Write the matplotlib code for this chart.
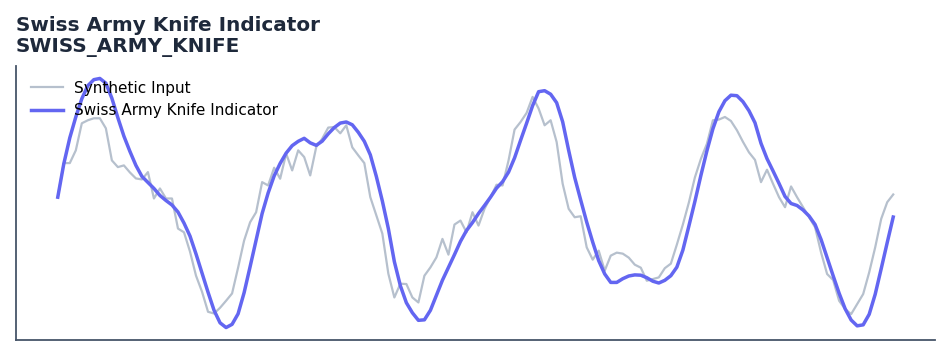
import matplotlib
matplotlib.use('Agg')
import matplotlib.pyplot as plt
import numpy as np

# values (arbitrary units, no axis shown)
synthetic_input = [
    143.3, 177.3, 177.3, 190, 217, 220, 222, 222, 212, 180,
    173.3, 175, 168, 162, 161, 168.3, 142, 152, 142, 142,
    112, 108.3, 89, 65, 49, 29, 27.3, 33, 40, 47.3,
    73, 100, 118.3, 128.3, 158.3, 155, 172.7, 161.7, 186.7, 170,
    190, 183.3, 165, 193.3, 201.7, 212.7, 213.3, 207, 215, 193,
    185, 177.3, 143.3, 125, 107, 67, 43.3, 57, 56.7, 43.3,
    38.3, 65, 73.3, 83.3, 101.7, 86, 116, 120, 108.3, 128.3,
    115, 131.7, 143.3, 155.7, 155, 180, 210.7, 218.3, 227.3, 243.3,
    231.7, 215, 220, 198.3, 156.7, 131.7, 123.3, 124.3, 93.3, 81,
    90, 70, 85, 88, 87, 83, 76, 73, 60, 61.7,
    63.3, 72.5, 77, 96, 116, 138, 163, 181.5, 196.5, 220,
    220.7, 223.3, 219.3, 210, 198.5, 188, 180.5, 158.3, 170.7, 156.7,
    143.3, 133.3, 154, 143.3, 133.3, 123.3, 113.3, 88, 66.7, 60.7,
    40, 31.7, 26.7, 36.7, 46.7, 68.3, 93.3, 121.7, 138.3, 146,
]

swiss_army_knife = [
    143.3, 176.5, 202.5, 223.3, 241.5, 254.5, 260.5, 261.7, 257, 242,
    222.5, 204.2, 189, 175, 164, 158, 152, 145, 140, 135.5,
    128.5, 117.5, 104.5, 86.7, 67.5, 48.5, 30.5, 18, 13.3, 16.5,
    27, 48, 74, 100.5, 127, 147.5, 164.5, 177, 187.3, 194.7,
    199, 202, 197.5, 195, 199.2, 206.5, 212.7, 217.2, 218.3, 215.5,
    208, 199, 185.5, 164, 139.5, 112, 79, 55, 38, 28,
    20.5, 21, 30.5, 45.5, 60.5, 73.2, 86, 99.2, 110, 118,
    127, 135, 143.3, 152.3, 158.7, 168.3, 182.5, 200, 217, 234.5,
    248.5, 249.5, 246, 237.5, 218.5, 190, 163, 140.5, 118.5, 98.5,
    80, 66.7, 58.3, 58.3, 62, 64.7, 65.8, 65.5, 63, 59.5,
    57.7, 60.4, 65, 73.5, 90.5, 114.5, 139, 165, 189.5, 211.5,
    228.5, 239.5, 245, 244.5, 238.5, 229.5, 217.5, 197, 181.7, 169.5,
    157, 144, 137, 135, 130.5, 124.5, 116, 101, 83, 65,
    47.5, 32, 20.8, 15, 16, 26.5, 46.5, 72, 98, 123.5,
]

x = np.arange(len(synthetic_input))

fig = plt.figure(figsize=(9.51, 3.56), dpi=100)
ax = fig.add_axes([16 / 951, 1 - 340 / 356, (935 - 16) / 951, (340 - 66) / 356])

ax.plot(x, synthetic_input, color='#b6c0cd', linewidth=1.6, label='Synthetic Input')
ax.plot(x, swiss_army_knife, color='#6366f1', linewidth=2.5, label='Swiss Army Knife Indicator')

for side in ('top', 'right'):
    ax.spines[side].set_visible(False)
for side in ('left', 'bottom'):
    ax.spines[side].set_color('#475569')
    ax.spines[side].set_linewidth(1.3)
ax.set_xticks([])
ax.set_yticks([])

ax.legend(loc='upper left', frameon=False, fontsize=11, handlelength=2.15,
          handletextpad=0.7, borderaxespad=0.55, labelspacing=0.5)

fig.text(16 / 951, 1 - 16 / 356, 'Swiss Army Knife Indicator\nSWISS_ARMY_KNIFE',
         ha='left', va='top', fontsize=14.4, fontweight='bold', color='#1e293b',
         linespacing=1.15)

fig.savefig('out.png', dpi=100)
